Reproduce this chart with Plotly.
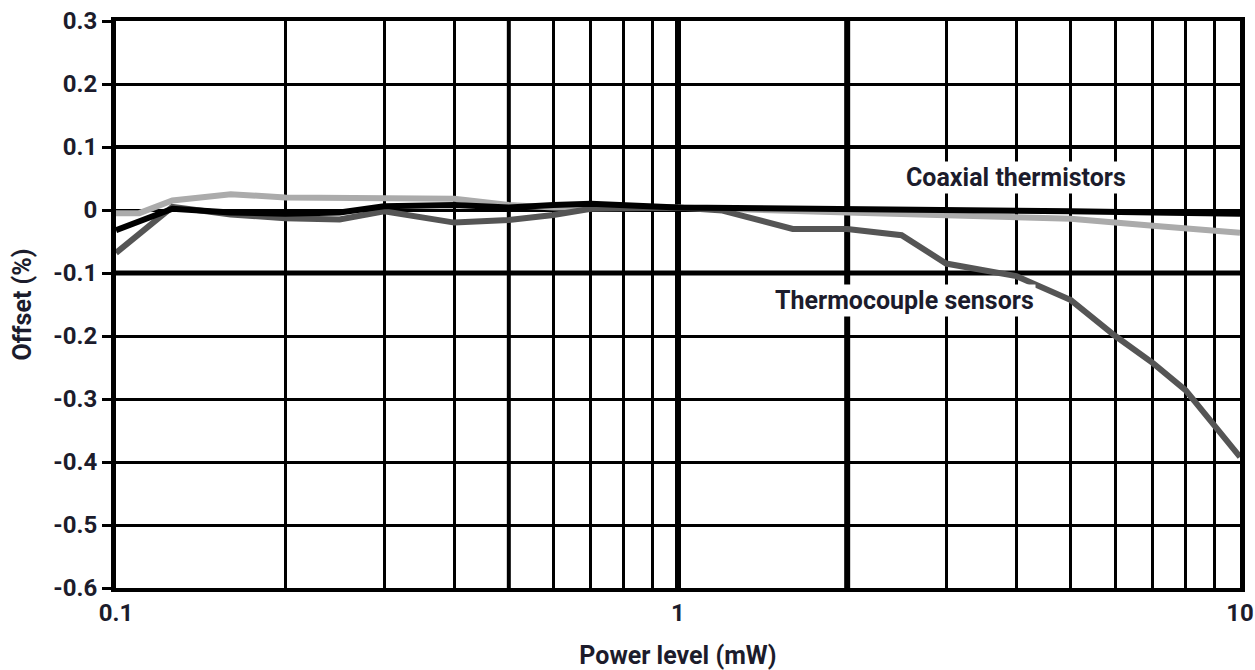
import math
import plotly.graph_objects as go

# Offset (%) versus power level (mW), log power axis
x_coax_a = [0.1, 0.126, 0.16, 0.2, 0.25, 0.3, 0.4, 0.5, 0.6, 0.7, 1, 2, 3, 5, 7, 10]
y_coax_a = [-0.032, 0.002, -0.004, -0.006, -0.004, 0.006, 0.008, 0.004, 0.008, 0.01,
            0.004, 0.002, 0.0, -0.002, -0.004, -0.006]

x_coax_b = [0.1, 0.11, 0.126, 0.16, 0.2, 0.3, 0.4, 0.5, 0.6, 0.7, 1, 2, 3, 4, 5, 7, 10]
y_coax_b = [-0.005, -0.005, 0.015, 0.025, 0.02, 0.02, 0.018, 0.008, 0.004, 0.004,
            0.004, -0.004, -0.008, -0.01, -0.014, -0.025, -0.036]

x_thermo = [0.1, 0.126, 0.16, 0.2, 0.25, 0.3, 0.4, 0.5, 0.6, 0.7, 1, 1.2, 1.6, 2,
            2.5, 3, 4, 5, 6, 7, 8, 10]
y_thermo = [-0.068, 0.005, -0.007, -0.013, -0.015, -0.002, -0.02, -0.016, -0.008, 0.002,
            0.004, -0.001, -0.03, -0.03, -0.04, -0.085, -0.105, -0.143, -0.2, -0.243,
            -0.286, -0.392]

x_grid = [0.1, 0.2, 0.3, 0.4, 0.5, 0.6, 0.7, 0.8, 0.9, 1, 2, 3, 4, 5, 6, 7, 8, 9, 10]
x_text = ["0.1", "", "", "", "", "", "", "", "", "1", "", "", "", "", "", "", "", "", "10"]
y_grid = [0.3, 0.2, 0.1, 0.0, -0.1, -0.2, -0.3, -0.4, -0.5, -0.6]
y_text = ["0.3", "0.2", "0.1", "0", "-0.1", "-0.2", "-0.3", "-0.4", "-0.5", "-0.6"]

# curve labels: (text, power mW, offset %)
labels = [("Coaxial thermistors", 4.0, 0.052),
          ("Thermocouple sensors", 2.53, -0.143)]

FONT = "Roboto, Liberation Sans, sans-serif"
TXT = "#1c1c2c"

fig = go.Figure()
fig.add_trace(go.Scatter(x=x_coax_b, y=y_coax_b, mode="lines",
                         line=dict(color="#ababab", width=6), name="coax_b"))
fig.add_trace(go.Scatter(x=x_thermo, y=y_thermo, mode="lines",
                         line=dict(color="#555555", width=6), name="thermocouple"))
fig.add_trace(go.Scatter(x=x_coax_a, y=y_coax_a, mode="lines",
                         line=dict(color="#000000", width=6), name="coax_a"))

# heavier emphasis lines
for xv, w in [(0.5, 4), (1, 6), (2, 6)]:
    fig.add_shape(type="line", xref="x", yref="paper", x0=xv, x1=xv, y0=0, y1=1,
                  line=dict(color="black", width=w), layer="below")
for yv, w in [(0.1, 4), (-0.1, 5)]:
    fig.add_shape(type="line", xref="paper", yref="y", x0=0, x1=1, y0=yv, y1=yv,
                  line=dict(color="black", width=w), layer="below")

# annotation x positions on a log axis are given in log10 units
for text, xv, yv in labels:
    fig.add_annotation(x=math.log10(xv), y=yv, xref="x", yref="y", text=text,
                       showarrow=False, bgcolor="white",
                       font=dict(family=FONT, size=25, color=TXT, weight="bold"))

fig.update_layout(
    width=1255, height=670,
    margin=dict(l=116, r=15, t=21, b=82),
    paper_bgcolor="white", plot_bgcolor="white",
    showlegend=False,
    font=dict(family=FONT, size=24, color=TXT, weight="bold"),
    xaxis=dict(type="log", range=[-1, 1], tickvals=x_grid, ticktext=x_text,
               showgrid=True, gridcolor="black", gridwidth=3, ticks="",
               showline=True, linecolor="black", linewidth=4, mirror=True,
               zeroline=False, automargin=False,
               title=dict(text="Power level (mW)", standoff=32,
                          font=dict(family=FONT, size=25, color=TXT, weight="bold"))),
    yaxis=dict(range=[-0.6, 0.3], tickvals=y_grid, ticktext=y_text,
               showgrid=True, gridcolor="black", gridwidth=3,
               ticks="outside", ticklen=9, tickwidth=3, tickcolor="black",
               showline=True, linecolor="black", linewidth=5, mirror=True,
               zeroline=False, automargin=False,
               title=dict(text="Offset (%)", standoff=16,
                          font=dict(family=FONT, size=25, color=TXT, weight="bold"))),
)

fig.write_html("out.html")
